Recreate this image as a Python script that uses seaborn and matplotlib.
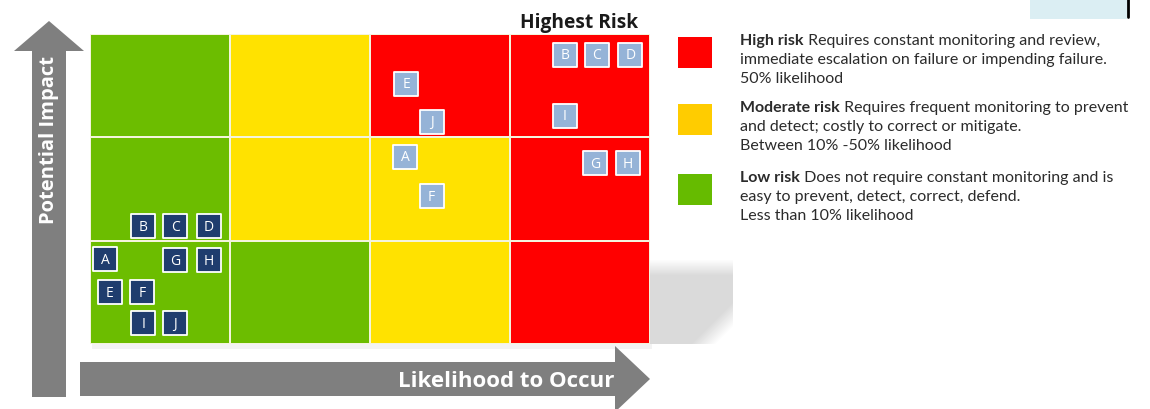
import numpy as np
import matplotlib.pyplot as plt
import seaborn as sns
from matplotlib.colors import ListedColormap
from matplotlib.patches import Polygon, Rectangle

# Risk grid: 0 = low, 1 = moderate, 2 = high (rows from low impact to high impact)
risk_grid = [
    [0, 0, 1, 2],
    [0, 1, 1, 2],
    [0, 1, 2, 2],
]
grid_colors = ['#6cbd00', '#ffe200', '#ff0000']

# Risk items after mitigation (dark squares)
low_labels = ['A', 'B', 'C', 'D', 'E', 'F', 'G', 'H', 'I', 'J']
low_x = [0.11, 0.38, 0.61, 0.85, 0.14, 0.37, 0.61, 0.85, 0.38, 0.61]
low_y = [0.82, 1.14, 1.14, 1.14, 0.50, 0.50, 0.81, 0.81, 0.20, 0.20]

# Risk items before mitigation (light squares)
high_labels = ['A', 'B', 'C', 'D', 'E', 'F', 'G', 'H', 'I', 'J']
high_x = [2.25, 3.39, 3.62, 3.86, 2.26, 2.44, 3.61, 3.84, 3.39, 2.44]
high_y = [1.81, 2.80, 2.80, 2.80, 2.52, 1.43, 1.75, 1.75, 2.21, 2.15]

legend_colors = ['#ff0000', '#ffcc00', '#66bb00']
legend_titles = ['High risk', 'Moderate risk', 'Low risk']
legend_lines = [
    [' Requires constant monitoring and review,',
     'immediate escalation on failure or impending failure.',
     '50% likelihood'],
    [' Requires frequent monitoring to prevent',
     'and detect; costly to correct or mitigate.',
     'Between 10% -50% likelihood'],
    [' Does not require constant monitoring and is',
     'easy to prevent, detect, correct, defend.',
     'Less than 10% likelihood'],
]

sns.set_theme(style='white')
plt.rcParams['font.family'] = ['Lato', 'DejaVu Sans']
bold_font = ['Open Sans', 'DejaVu Sans']

W, H = 1150, 410
fig = plt.figure(figsize=(W / 100, H / 100), dpi=100)

# background axes in pixel coordinates for arrows, legend and decorations
bg = fig.add_axes([0, 0, 1, 1], zorder=0)
bg.set_xlim(0, W)
bg.set_ylim(H, 0)
bg.axis('off')

# soft shadow to the right of the grid (fades at top and towards bottom-right)
rows, cols = 85, 83
yy, xx = np.mgrid[0:rows, 0:cols]
alpha = np.clip(yy / 16.0, 0, 1) * np.clip((150 - xx - yy) / 25.0, 0, 1) * 0.9
shade = np.zeros((rows, cols, 4))
shade[..., :3] = 0.84
shade[..., 3] = alpha
bg.imshow(shade, extent=(650, 733, 345, 260), aspect='auto', zorder=0)
bg.add_patch(Rectangle((92, 345), 560, 5, color='#f3f3f3', lw=0, zorder=0))

gray = '#7f7f7f'
# vertical arrow
bg.add_patch(Polygon([(32, 398), (32, 52), (14, 52), (49, 22), (84, 52), (66, 52), (66, 398)],
                     closed=True, color=gray, lw=0))
# horizontal arrow
bg.add_patch(Polygon([(80, 363), (615, 363), (615, 347), (650, 380), (615, 413), (615, 397), (80, 397)],
                     closed=True, color=gray, lw=0))

bg.text(49, 140, 'Potential Impact', rotation=90, ha='center', va='center',
        color='white', fontsize=14.5, fontweight='bold', family=bold_font)
bg.text(614, 382, 'Likelihood to Occur', ha='right', va='center',
        color='white', fontsize=16, fontweight='bold', family=bold_font)
bg.text(638, 28, 'Highest Risk', ha='right', va='baseline', color='#1a1a1a',
        fontsize=13.8, fontweight='bold', family=bold_font)

# top-right decoration
bg.add_patch(Rectangle((1030, 0), 97, 20, color='#dbeef3', lw=0))
bg.plot([1128, 1128], [0, 18], color='black', lw=2)

# legend
txt_color = '#2b2b2b'
box_tops = [38, 105, 175]
base_y = [45, 112, 182]
for i in range(3):
    bg.add_patch(Rectangle((678, box_tops[i]), 34, 31, color=legend_colors[i], lw=0))
    t = bg.text(740, base_y[i], legend_titles[i], fontsize=11.5, fontweight='bold',
                color=txt_color, va='baseline', ha='left')
    bg.annotate(legend_lines[i][0], xy=(1, 0), xycoords=t, va='bottom', ha='left',
                fontsize=11.5, color=txt_color)
    for j in (1, 2):
        bg.text(740, base_y[i] + 19 * j, legend_lines[i][j], fontsize=11.5,
                color=txt_color, va='baseline', ha='left')

# heat map grid
ax = fig.add_axes([90 / W, (H - 345) / H, 560 / W, 310 / H], zorder=1)
sns.heatmap(np.array(risk_grid), cmap=ListedColormap(grid_colors), vmin=-0.5, vmax=2.5,
            cbar=False, linewidths=1.2, linecolor='#f4f4dc', xticklabels=False,
            yticklabels=False, ax=ax)
ax.set_ylim(0, 3)
ax.set_xlim(0, 4)

sns.scatterplot(x=low_x, y=low_y, marker='s', s=300, color='#1f3d6e',
                edgecolor='white', linewidth=1.3, ax=ax, zorder=3, legend=False)
sns.scatterplot(x=high_x, y=high_y, marker='s', s=300, color='#95b3d7',
                edgecolor='white', linewidth=1.3, ax=ax, zorder=3, legend=False)
for lab, x, y in zip(low_labels, low_x, low_y):
    ax.text(x, y, lab, color='white', ha='center', va='center', fontsize=10,
            family=bold_font, zorder=4)
for lab, x, y in zip(high_labels, high_x, high_y):
    ax.text(x, y, lab, color='white', ha='center', va='center', fontsize=10,
            family=bold_font, zorder=4)
ax.set_xlabel('')
ax.set_ylabel('')
for s in ax.spines.values():
    s.set_visible(False)

fig.savefig('out.png', dpi=100)
